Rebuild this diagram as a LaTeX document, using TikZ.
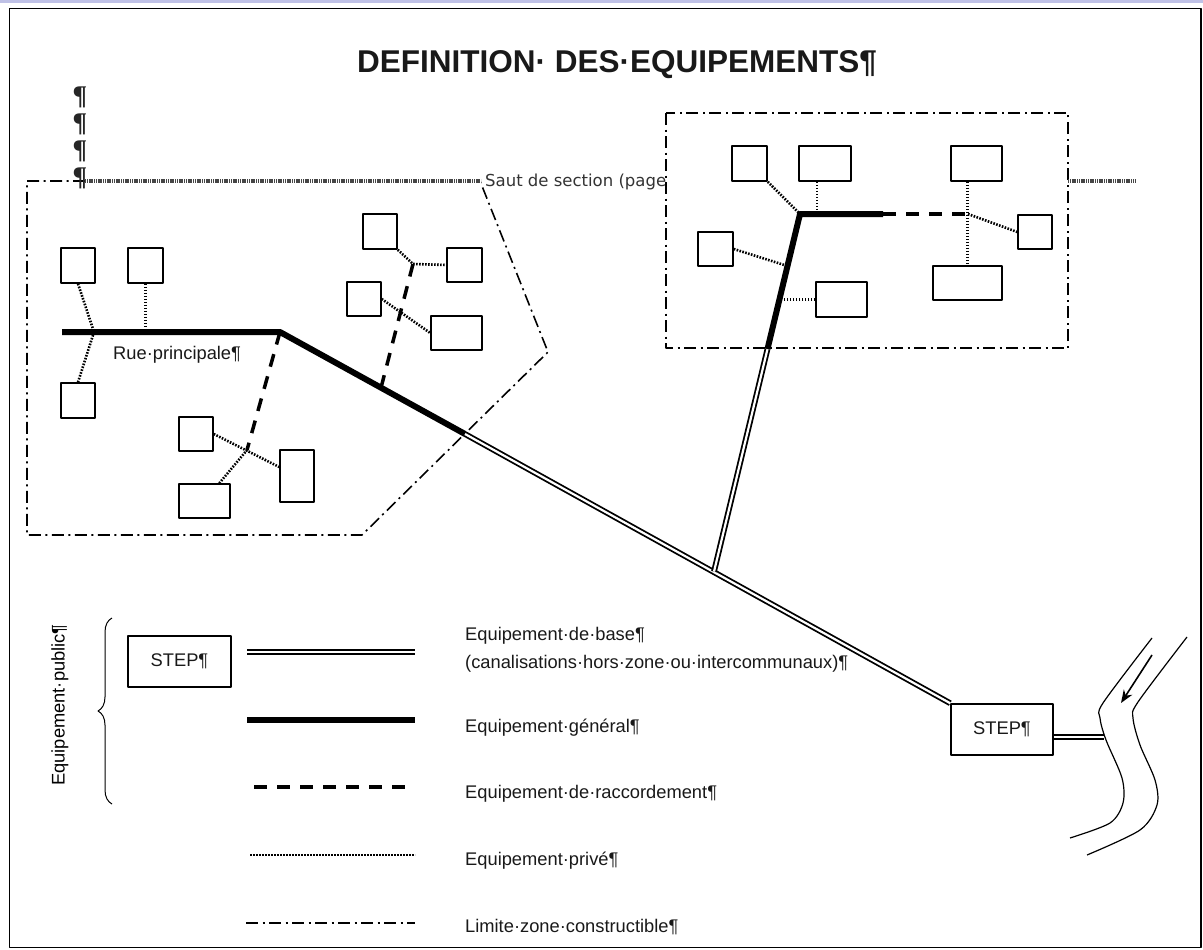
\documentclass[tikz,border=0pt]{standalone}
\usepackage{fontspec}
\setmainfont{Liberation Sans}
\newfontfamily\sautfont{DejaVu Sans}
\newfontfamily\piedfont{Liberation Serif}
\usetikzlibrary{arrows.meta,decorations.pathreplacing}
\begin{document}
\begin{tikzpicture}[x=1pt,y=-1pt,line join=round,font=\fontsize{18.3}{28}\selectfont,>={Stealth[length=13pt,width=10pt]},
	lot/.style 2 args={draw,line width=1.5pt,inner sep=0pt,minimum width=#1,minimum height=#2},
	canbase/.style={double,double distance=2.2pt,line width=1.8pt},
	general/.style={line width=6pt},
	raccord/.style={line width=3.5pt,dash pattern=on 13pt off 10pt},
	prive/.style={line width=2.6pt,dash pattern=on 1.6pt off 1.4pt},
	limite/.style={line width=1.6pt,dash pattern=on 12pt off 4.5pt on 2pt off 4.5pt},
	saut/.style={line width=4.5pt,gray!55!black,dash pattern=on 1.2pt off 0.6pt},
	legende/.style={anchor=base west,inner sep=0pt,text=black!90},
	pied/.style={font=\piedfont\bfseries\fontsize{27}{30}\selectfont,text=black!85,inner sep=0pt}]
	\useasboundingbox (0,0) rectangle (1203,950);
	\fill[cyan!25!blue!25] (0,0) rectangle (1203,3.5);
	\draw[line width=1.5pt] (9.5,8.5) rectangle (1201,947.5);
	% titre
	\node[anchor=base west,inner sep=0pt,font=\bfseries\fontsize{31.5}{36}\selectfont,text=black!90] (titre) at (357,73) {DEFINITION· DES·EQUIPEMENTS¶};
	\node[pied] (pa) at (80,97) {¶};
	\node[pied] (pb) at (80,124) {¶};
	\node[pied] (pc) at (80,151) {¶};
	% zones constructibles
	\draw[limite] (27,181) -- (480,181) -- (548,352) -- (362,535) -- (27,535) -- cycle;
	\draw[limite] (666,113) rectangle (1068,348);
	\draw[white,line width=5pt] (85,181) -- (481,181);
	\draw[saut] (85,181) -- (481,181);
	\draw[saut] (1068,181) -- (1135,181);
	\node[pied] (pd) at (80,178) {¶};
	\node[anchor=base west,inner sep=0pt,font=\sautfont\fontsize{16.5}{20}\selectfont,text=black!80] (saut) at (485,186) {Saut de section (page};
	% lots zone gauche
	\node[lot={34pt}{35pt}] (l1) at (78,265.5) {};
	\node[lot={35pt}{35pt}] (l2) at (145.5,265.5) {};
	\node[lot={34pt}{35pt}] (l3) at (78,400.5) {};
	\node[lot={34pt}{34pt}] (l4) at (196,434) {};
	\node[lot={51pt}{34pt}] (l5) at (204.5,501) {};
	\node[lot={34pt}{52pt}] (l6) at (297,476) {};
	\node[lot={34pt}{35pt}] (l7) at (380,231.5) {};
	\node[lot={35pt}{34pt}] (l8) at (464.5,265) {};
	\node[lot={34pt}{34pt}] (l9) at (364,299) {};
	\node[lot={51pt}{34pt}] (l10) at (456.5,333) {};
	% lots zone droite
	\node[lot={35pt}{35pt}] (r1) at (749.5,163.5) {};
	\node[lot={52pt}{35pt}] (r2) at (825,163.5) {};
	\node[lot={51pt}{35pt}] (r3) at (976.5,163.5) {};
	\node[lot={34pt}{34pt}] (r4) at (1035,232) {};
	\node[lot={69pt}{34pt}] (r5) at (967.5,283) {};
	\node[lot={35pt}{34pt}] (r6) at (715.5,249) {};
	\node[lot={51pt}{35pt}] (r7) at (841.5,299.5) {};
	\node[lot={102pt}{51pt},text=black!90] (step) at (1002,729.5) {STEP¶};
	% points du reseau
	\coordinate (rueW) at (62,332);
	\coordinate (rueE) at (280,332);
	\coordinate (genEnd) at (465,434);
	\coordinate (branch) at (714,571.6);
	\coordinate (zb) at (767.5,349);
	\coordinate (knee) at (800,214);
	\coordinate (gen2) at (883,214);
	\coordinate (tee) at (968,214);
	\coordinate (j1) at (94,332);
	\coordinate (j2) at (817,214);
	\coordinate (j4) at (247,450);
	\coordinate (j7) at (413,264);
	\coordinate (r6j) at (787.5,266);
	\coordinate (r7j) at (779.5,299.5);
	\coordinate (rac) at (381,387.8);
	\coordinate (outlet) at (1104,737);
	% equipement general et de base
	\draw[general] (rueW) -- (rueE) -- (genEnd);
	\draw[canbase] (genEnd) -- (step.north west);
	\draw[canbase] (branch) -- (zb);
	\draw[general] (zb) -- (knee) -- (gen2);
	\draw[canbase] (step.east |- outlet) -- (outlet);
	\node[legende] (rue) at (113,359) {Rue·principale¶};
	% raccordements
	\draw[raccord] (rueE) -- (j4);
	\draw[raccord] (rac) -- (j7);
	\draw[raccord] (gen2) -- (tee);
	% equipement prive
	\draw[prive] (l1.south) -- (j1) -- (l3.north);
	\draw[prive] (l2.south) -- (l2.south |- rueE);
	\draw[prive] (l4.east) -- ([yshift=9pt]l6.west);
	\draw[prive] (l5) -- (j4);
	\draw[prive] (l7.south east) -- (j7) -- (l8.west);
	\draw[prive] (l9.east) -- (l10.west);
	\draw[prive] (r1.south east) -- (knee);
	\draw[prive] (j2 |- r2.south) -- (j2);
	\draw[prive] (r3.south -| r5.north) -- (r5.north);
	\draw[prive] (tee) -- (r4.west);
	\draw[prive] (r6.east) -- (r6j);
	\draw[prive] (r7.west) -- (r7j);
	% riviere
	\draw[line width=1.2pt] plot[smooth] coordinates {(1152,638) (1103,703) (1100,718) (1106,740) (1122,778) (1123,803) (1110,823) (1070,838)};
	\draw[line width=1.2pt] plot[smooth] coordinates {(1187,637) (1138,702) (1133,718) (1140,745) (1155,780) (1157,805) (1140,830) (1087,855)};
	\coordinate (flotA) at (1152,655);
	\coordinate (flotB) at (1121,703);
	\draw[->,line width=1.6pt] (flotA) -- (flotB);
	% legende
	\node[rotate=90,inner sep=0pt,text=black] (public) at (60,705) {Equipement·public¶};
	\draw[line width=1pt,decorate,decoration={brace,amplitude=14pt}] (112,804) -- (112,618);
	\node[lot={103pt}{51pt},text=black!90] (lstep) at (179.5,661.5) {STEP¶};
	\draw[canbase] (247,652) -- (415,652);
	\draw[general] (247,720) -- (415,720);
	\draw[raccord] (254,787) -- (415,787);
	\draw[prive] (250,855) -- (415,855);
	\draw[limite] (246,923) -- (415,923);
	\node[legende,align=left] (tbase) at (465,668) {Equipement·de·base¶\\(canalisations·hors·zone·ou·intercommunaux)¶};
	\node[legende] (tgen) at (465,732) {Equipement·général¶};
	\node[legende] (trac) at (465,798) {Equipement·de·raccordement¶};
	\node[legende] (tpriv) at (465,865) {Equipement·privé¶};
	\node[legende] (tlim) at (465,932) {Limite·zone·constructible¶};
\end{tikzpicture}
\end{document}
